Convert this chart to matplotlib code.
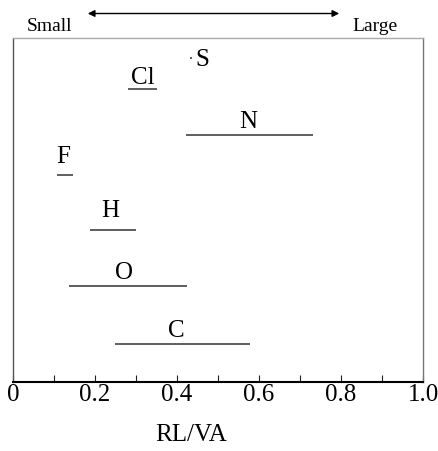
import matplotlib
matplotlib.use("Agg")
import matplotlib.pyplot as plt
from matplotlib.ticker import MultipleLocator, FixedLocator

plt.rcParams["font.family"] = ["Liberation Serif", "DejaVu Serif"]

# RL/VA range for each element
elements = ["S", "Cl", "N", "F", "H", "O", "C"]
low = [0.431, 0.280, 0.421, 0.107, 0.188, 0.137, 0.248]
high = [0.436, 0.351, 0.731, 0.146, 0.300, 0.424, 0.578]

# vertical row of each element inside the panel (0 = bottom, 1 = top)
rows = [0.942, 0.852, 0.718, 0.602, 0.442, 0.279, 0.110]

tick_values = [0.0, 0.2, 0.4, 0.6, 0.8, 1.0]
tick_labels = ["0", "0.2", "0.4", "0.6", "0.8", "1.0"]

# label placement relative to the middle of each range (points)
label_dx = [8, 0, -1, -1, -2, -3, -4]
label_dy = [-5, 4, 6, 9, 10, 6, 6]

fig = plt.figure(figsize=(4.38, 4.52), dpi=100)
ax = fig.add_axes([13 / 438, 1 - 383 / 452, 410 / 438, 344 / 452])

for name, lo, hi, y, dx, dy in zip(elements, low, high, rows, label_dx, label_dy):
    ax.plot([lo, hi], [y, y], color="#333333", lw=1.1, solid_capstyle="butt")
    ax.annotate(name, xy=((lo + hi) / 2, y), xytext=(dx, dy),
                textcoords="offset points", ha="center", va="baseline",
                fontsize=18, color="black")

ax.set_xlim(0, 1.0)
ax.set_ylim(0, 1)
ax.xaxis.set_major_locator(FixedLocator(tick_values))
ax.set_xticklabels(tick_labels)
ax.xaxis.set_minor_locator(MultipleLocator(0.1))
ax.tick_params(axis="x", which="both", direction="in", length=5, width=0.8,
               color="#222222", labelsize=18, pad=1)
ax.set_yticks([])

ax.spines["bottom"].set_linewidth(1.5)
ax.spines["bottom"].set_color("black")
ax.spines["left"].set_color("#555555")
ax.spines["top"].set_color("#aaaaaa")
ax.spines["right"].set_color("#777777")
for side in ("left", "top", "right"):
    ax.spines[side].set_linewidth(1.0)

# size direction indicator above the panel
fig.text(49.5 / 438, 1 - 30.7 / 452, "Small", ha="center", va="baseline", fontsize=14)
fig.text(374.5 / 438, 1 - 30.7 / 452, "Large", ha="center", va="baseline", fontsize=14)
fig.add_artist(matplotlib.patches.FancyArrowPatch(
    (85 / 438, 1 - 14.5 / 452), (342 / 438, 1 - 14.5 / 452),
    transform=fig.transFigure, arrowstyle="<|-|>", mutation_scale=10,
    lw=1.0, color="black"))

fig.text(191 / 438, 1 - 441 / 452, "RL/VA", ha="center", va="baseline", fontsize=18)

fig.savefig("out.png", dpi=100)
